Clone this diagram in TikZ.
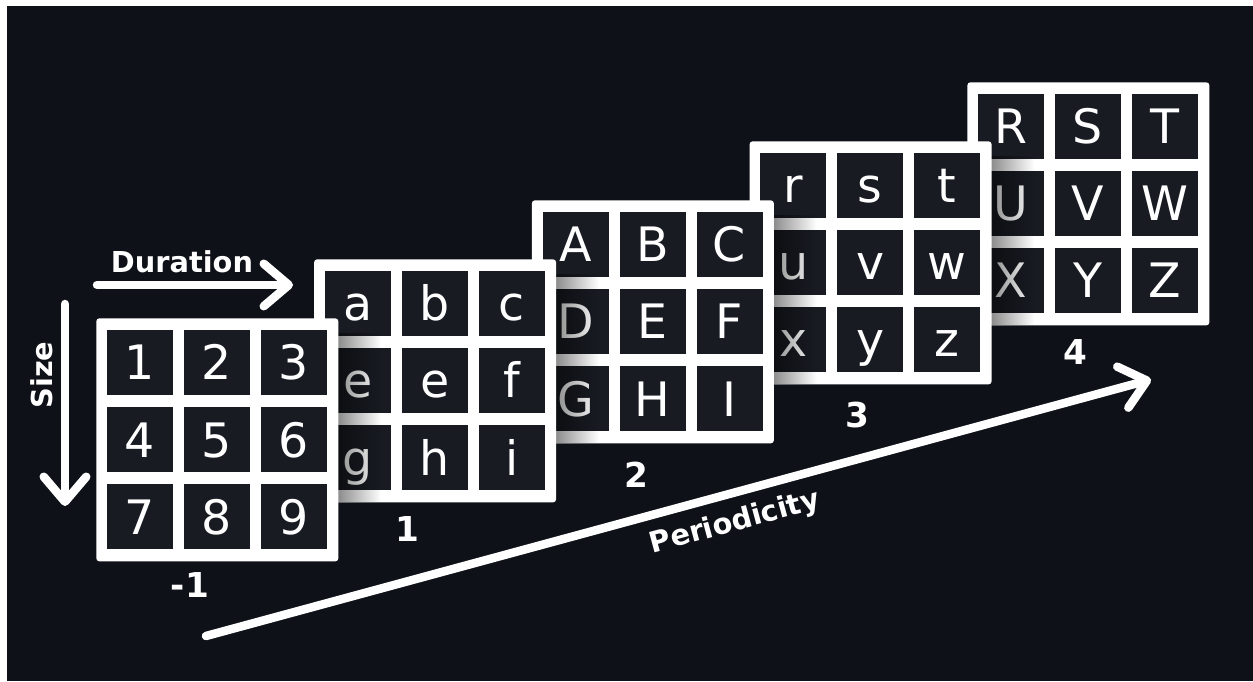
\documentclass[tikz,border=0pt]{standalone}
\usepackage{fontspec}
\setmainfont{DejaVu Sans}
\usetikzlibrary{arrows.meta,fadings}

\definecolor{bgdark}{RGB}{14,17,24}
\definecolor{cellbg}{RGB}{24,27,34}

\begin{document}
\begin{tikzpicture}[
    frame/.style={fill=white, rounded corners=0.06cm, inner sep=0pt,
      minimum width=4.84cm, minimum height=4.86cm, anchor=north west},
    cell/.style={fill=cellbg, text=white, inner sep=0pt,
      minimum width=1.32cm, minimum height=1.30cm,
      text height=0.70cm, text depth=0pt, font=\fontsize{27}{27}\selectfont},
    caption/.style={text=white, font=\bfseries\fontsize{19.5}{20}\selectfont},
    axislabel/.style={text=white, font=\bfseries\fontsize{16.4}{17}\selectfont},
    bigarrow/.style={white, line width=0.17cm, line cap=round,
      -{Straight Barb[length=0.5cm, width=0.85cm, line cap=round, line join=round]}}]
    % ── Canvas ──────────────────────────────────────────────────────────────
    \useasboundingbox (0,0) rectangle (25.06,13.62);
    \fill[white] (0,0) rectangle (25.06,13.62);
    \fill[bgdark] (0.14,0) rectangle (25.06,13.50);
    % ── Panels, drawn from back (4) to front (-1) ──────────────────────────
    % each front panel throws a soft shadow over the one behind it
    \foreach \i/\cap/\cx/\cy/\chars in {
        4/4/21.50/6.58/{R,S,T,U,V,W,X,Y,Z},
        3/3/17.14/5.32/{r,s,t,u,v,w,x,y,z},
        2/2/12.72/4.12/{A,B,C,D,E,F,G,H,I},
        1/1/8.14/3.04/{a,b,c,e,e,f,g,h,i},
        0/-1/3.80/1.92/{1,2,3,4,5,6,7,8,9}} {
      \pgfmathsetmacro\px{1.92+4.355*\i}
      \pgfmathsetmacro\py{7.26+1.18*\i}
      \ifnum\i<4
        \fill[black, fill opacity=0.45, path fading=east]
          (\px+4.84,\py-3.68) rectangle (\px+5.7,\py-0.3);
      \fi
      \node[frame] (pan\i) at (\px,\py) {};
      \foreach \c [count=\k from 0] in \chars {
        \pgfmathsetmacro\qx{\px+0.88+1.54*mod(\k,3)}
        \pgfmathsetmacro\qy{\py-0.89-1.54*int(\k/3)}
        \node[cell] (pan\i-\k) at (\qx,\qy) {\c};
      }
      \node[caption] (cap\i) at (\cx,\cy) {\cap};
    }
    % ── Axes ────────────────────────────────────────────────────────────────
    \coordinate (durA) at (1.94,7.92);
    \coordinate (durB) at (5.86,7.92);
    \draw[bigarrow] (durA) -- (durB);
    \node[axislabel, anchor=base] (durlbl) at (3.64,8.16) {Duration};
    \coordinate (sizeA) at (1.30,7.54);
    \coordinate (sizeB) at (1.30,3.50);
    \draw[bigarrow] (sizeA) -- (sizeB);
    \node[axislabel, rotate=90] (sizelbl) at (0.84,6.12) {Size};
    \coordinate (perA) at (4.12,0.90);
    \coordinate (perB) at (23.02,6.03);
    \draw[bigarrow] (perA) -- (perB);
    \node[axislabel, rotate=15.2] (perlbl) at (14.70,3.16) {Periodicity};
\end{tikzpicture}
\end{document}
